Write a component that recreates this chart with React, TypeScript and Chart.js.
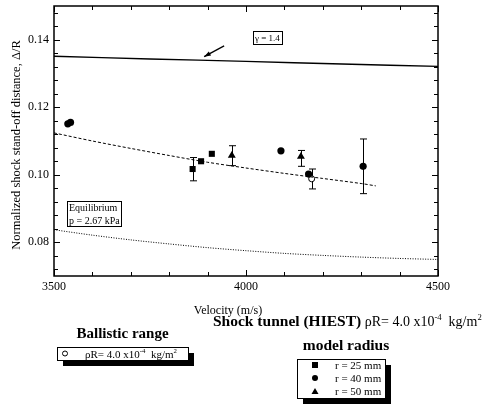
import React, { useEffect, useRef } from 'react';
import { Chart, registerables } from 'chart.js';

Chart.register(...registerables);

const SERIF = "'Liberation Serif', 'Times New Roman', Times, serif";

// Axis ticks
const X_TICKS = [3500, 4000, 4500];
const Y_TICKS = [0.08, 0.1, 0.12, 0.14];

// gamma = 1.4 curve
const GAMMA_V = [3500, 3750, 4000, 4250, 4500];
const GAMMA_R = [0.1351, 0.1343, 0.1336, 0.1328, 0.1321];

// fitted (dashed) curve
const FIT_V = [3500, 3600, 3700, 3800, 3900, 4000, 4100, 4200, 4300, 4338];
const FIT_R = [0.1124, 0.11, 0.1078, 0.1057, 0.1037, 0.102, 0.1004, 0.0989, 0.0974, 0.0967];

// Equilibrium p = 2.67 kPa (dotted)
const EQ_V = [3500, 3600, 3700, 3800, 3900, 4000, 4100, 4200, 4300, 4400, 4500];
const EQ_R = [0.0837, 0.0821, 0.0807, 0.0795, 0.0784, 0.0775, 0.0767, 0.0761, 0.0756, 0.0752, 0.0749];

// Shock tunnel r = 25 mm
const R25_V = [3861, 3883, 3911];
const R25_R = [0.1017, 0.104, 0.1062];
// r = 40 mm
const R40_V = [3536, 3543, 4091, 4163, 4305];
const R40_R = [0.1151, 0.1155, 0.1071, 0.1002, 0.1025];
// r = 50 mm
const R50_V = [3963, 4143];
const R50_R = [0.1057, 0.1054];
// Ballistic range
const BR_V = [4171];
const BR_R = [0.0988];

// Error bars
const ERR_V = [3861, 3963, 4143, 4171, 4305];
const ERR_LO = [0.0982, 0.1027, 0.1025, 0.0958, 0.0944];
const ERR_HI = [0.1051, 0.1086, 0.1072, 0.1017, 0.1106];

// Arrow annotation (data coordinates)
const ARROW_FROM = [3943, 0.1382];
const ARROW_TO = [3891, 0.135];

const pts = (xs: number[], ys: number[]) => xs.map((x, i) => ({ x, y: ys[i] }));

type Part = { t: string; sup?: boolean; bold?: boolean };

function drawRich(ctx: CanvasRenderingContext2D, x: number, y: number, parts: Part[], size: number, boldSize?: number) {
  ctx.textAlign = 'left';
  ctx.textBaseline = 'alphabetic';
  let cx = x;
  for (const p of parts) {
    const base = p.bold && boldSize ? boldSize : size;
    const s = p.sup ? size * 0.62 : base;
    ctx.font = `${p.bold ? 'bold ' : ''}${s}px ${SERIF}`;
    ctx.fillText(p.t, cx, p.sup ? y - size * 0.42 : y);
    cx += ctx.measureText(p.t).width;
  }
}

function shadowBox(ctx: CanvasRenderingContext2D, x: number, y: number, w: number, h: number) {
  ctx.fillStyle = '#000';
  ctx.fillRect(x + 6, y + 6, w, h);
  ctx.fillStyle = '#fff';
  ctx.fillRect(x, y, w, h);
  ctx.strokeStyle = '#000';
  ctx.lineWidth = 1;
  ctx.strokeRect(x + 0.5, y + 0.5, w, h);
}

const decor = {
  id: 'decor',
  beforeDatasetsDraw(chart: any) {
    const { ctx, scales } = chart;
    const xs = scales.x, ys = scales.y;
    ctx.save();
    ctx.strokeStyle = '#000';
    ctx.lineWidth = 1;
    ERR_V.forEach((v, i) => {
      const px = Math.round(xs.getPixelForValue(v)) + 0.5;
      const lo = ys.getPixelForValue(ERR_LO[i]);
      const hi = ys.getPixelForValue(ERR_HI[i]);
      ctx.beginPath();
      ctx.moveTo(px, lo);
      ctx.lineTo(px, hi);
      ctx.moveTo(px - 3.5, lo);
      ctx.lineTo(px + 3.5, lo);
      ctx.moveTo(px - 3.5, hi);
      ctx.lineTo(px + 3.5, hi);
      ctx.stroke();
    });
    ctx.restore();
  },
  afterDraw(chart: any) {
    const { ctx, scales, chartArea } = chart;
    const xs = scales.x, ys = scales.y;
    const { left, right, top, bottom } = chartArea;
    ctx.save();
    // frame
    ctx.strokeStyle = '#000';
    ctx.lineWidth = 1.5;
    ctx.strokeRect(left, top, right - left, bottom - top);
    // inward ticks
    ctx.lineWidth = 1;
    ctx.beginPath();
    for (let v = 3500; v <= 4500; v += 100) {
      const px = Math.round(xs.getPixelForValue(v)) + 0.5;
      const len = v % 500 === 0 ? 6 : 4;
      ctx.moveTo(px, bottom);
      ctx.lineTo(px, bottom - len);
      ctx.moveTo(px, top);
      ctx.lineTo(px, top + len);
    }
    for (let m = 72; m <= 148; m += 4) {
      const py = Math.round(ys.getPixelForValue(m / 1000)) + 0.5;
      const len = m % 20 === 0 ? 6 : 4;
      ctx.moveTo(left, py);
      ctx.lineTo(left + len, py);
      ctx.moveTo(right, py);
      ctx.lineTo(right - len, py);
    }
    ctx.stroke();

    // arrow
    const ax0 = xs.getPixelForValue(ARROW_FROM[0]);
    const ay0 = ys.getPixelForValue(ARROW_FROM[1]);
    const ax1 = xs.getPixelForValue(ARROW_TO[0]);
    const ay1 = ys.getPixelForValue(ARROW_TO[1]);
    const ang = Math.atan2(ay1 - ay0, ax1 - ax0);
    ctx.lineWidth = 1.3;
    ctx.beginPath();
    ctx.moveTo(ax0, ay0);
    ctx.lineTo(ax1, ay1);
    ctx.stroke();
    ctx.fillStyle = '#000';
    ctx.beginPath();
    ctx.moveTo(ax1, ay1);
    ctx.lineTo(ax1 - 7 * Math.cos(ang - 0.35), ay1 - 7 * Math.sin(ang - 0.35));
    ctx.lineTo(ax1 - 7 * Math.cos(ang + 0.35), ay1 - 7 * Math.sin(ang + 0.35));
    ctx.closePath();
    ctx.fill();

    // gamma label box
    ctx.fillStyle = '#fff';
    ctx.fillRect(253, 31, 29, 13);
    ctx.strokeStyle = '#000';
    ctx.lineWidth = 1;
    ctx.strokeRect(253.5, 31.5, 29, 13);
    ctx.fillStyle = '#000';
    ctx.font = `9px ${SERIF}`;
    ctx.textAlign = 'left';
    ctx.textBaseline = 'alphabetic';
    ctx.fillText('\u03b3 = 1.4', 255, 41);

    // equilibrium box
    ctx.fillStyle = '#fff';
    ctx.fillRect(67, 201, 54, 25);
    ctx.strokeRect(67.5, 201.5, 54, 25);
    ctx.fillStyle = '#000';
    ctx.font = `10px ${SERIF}`;
    ctx.fillText('Equilibrium', 69, 211);
    ctx.fillText('p = 2.67 kPa', 69, 224);

    // axis titles
    ctx.font = `12px ${SERIF}`;
    ctx.textAlign = 'center';
    ctx.textBaseline = 'middle';
    ctx.fillText('Velocity (m/s)', 228, 310.5);
    ctx.save();
    ctx.translate(17, 145);
    ctx.rotate(-Math.PI / 2);
    ctx.font = `12.5px ${SERIF}`;
    ctx.fillText('Normalized shock stand-off distance, \u0394/R', 0, 0);
    ctx.restore();

    // Shock tunnel heading
    drawRich(ctx, 213, 326, [
      { t: 'Shock tunnel (HIEST)', bold: true },
      { t: ' \u03c1R= 4.0 x10' },
      { t: '-4', sup: true },
      { t: '  kg/m' },
      { t: '2', sup: true },
    ], 14, 15.5);

    // Ballistic range legend
    ctx.fillStyle = '#000';
    ctx.font = `bold 15px ${SERIF}`;
    ctx.textAlign = 'center';
    ctx.textBaseline = 'alphabetic';
    ctx.fillText('Ballistic range', 122.5, 338);
    shadowBox(ctx, 57, 347, 131, 13);
    ctx.beginPath();
    ctx.arc(65, 353.5, 2.5, 0, Math.PI * 2);
    ctx.strokeStyle = '#000';
    ctx.lineWidth = 1;
    ctx.stroke();
    ctx.fillStyle = '#000';
    drawRich(ctx, 85, 358, [
      { t: '\u03c1R= 4.0 x10' },
      { t: '-4', sup: true },
      { t: '  kg/m' },
      { t: '2', sup: true },
    ], 11);

    // model radius legend
    ctx.font = `bold 15.5px ${SERIF}`;
    ctx.textAlign = 'center';
    ctx.fillText('model radius', 346, 350);
    shadowBox(ctx, 297, 359, 88, 39);
    ctx.fillStyle = '#000';
    ctx.fillRect(312, 362, 6, 6);
    ctx.beginPath();
    ctx.arc(315, 378, 3, 0, Math.PI * 2);
    ctx.fill();
    ctx.beginPath();
    ctx.moveTo(315, 388);
    ctx.lineTo(318.5, 394);
    ctx.lineTo(311.5, 394);
    ctx.closePath();
    ctx.fill();
    ctx.font = `11px ${SERIF}`;
    ctx.textAlign = 'left';
    ctx.fillText('r = 25 mm', 335, 369);
    ctx.fillText('r = 40 mm', 335, 382);
    ctx.fillText('r = 50 mm', 335, 395);
    ctx.restore();
  },
};

export default function App() {
  const ref = useRef<HTMLCanvasElement | null>(null);
  useEffect(() => {
    if (!ref.current) return;
    const chart = new Chart(ref.current, {
      type: 'scatter',
      data: {
        datasets: [
          {
            label: '\u03b3 = 1.4',
            data: pts(GAMMA_V, GAMMA_R),
            showLine: true,
            borderColor: '#000',
            borderWidth: 1.4,
            pointRadius: 0,
            tension: 0.3,
          },
          {
            label: 'fit',
            data: pts(FIT_V, FIT_R),
            showLine: true,
            borderColor: '#000',
            borderWidth: 1,
            borderDash: [3, 2],
            pointRadius: 0,
            tension: 0.3,
          },
          {
            label: 'Equilibrium p = 2.67 kPa',
            data: pts(EQ_V, EQ_R),
            showLine: true,
            borderColor: '#000',
            borderWidth: 1,
            borderDash: [1, 1.5],
            pointRadius: 0,
            tension: 0.3,
          },
          {
            label: 'r = 25 mm',
            data: pts(R25_V, R25_R),
            pointStyle: 'rect',
            pointRadius: 4.3,
            backgroundColor: '#000',
            borderColor: '#000',
            borderWidth: 0,
          },
          {
            label: 'r = 40 mm',
            data: pts(R40_V, R40_R),
            pointStyle: 'circle',
            pointRadius: 3.6,
            backgroundColor: '#000',
            borderColor: '#000',
            borderWidth: 0,
          },
          {
            label: 'r = 50 mm',
            data: pts(R50_V, R50_R),
            pointStyle: 'triangle',
            pointRadius: 4.6,
            backgroundColor: '#000',
            borderColor: '#000',
            borderWidth: 0,
          },
          {
            label: 'Ballistic range',
            data: pts(BR_V, BR_R),
            pointStyle: 'circle',
            pointRadius: 3,
            backgroundColor: '#fff',
            borderColor: '#000',
            borderWidth: 1,
          },
        ],
      },
      options: {
        responsive: false,
        animation: false,
        layout: { padding: { top: 6, right: 44, left: 0, bottom: 0 } },
        plugins: {
          legend: { display: false },
          tooltip: { enabled: false },
        },
        scales: {
          x: {
            type: 'linear',
            min: 3500,
            max: 4500,
            grid: { display: false, drawTicks: false },
            border: { display: false },
            afterFit: (s: any) => {
              s.height = 132;
              s.paddingLeft = 0;
              s.paddingRight = 0;
            },
            afterBuildTicks: (s: any) => { s.ticks = X_TICKS.map((v) => ({ value: v })); },
            ticks: {
              padding: 4,
              color: '#000',
              font: { family: SERIF, size: 12 },
              callback: (v: any) => String(v),
            },
          },
          y: {
            type: 'linear',
            min: 0.07,
            max: 0.15,
            grid: { display: false, drawTicks: false },
            border: { display: false },
            afterFit: (s: any) => {
              s.width = 54;
              s.paddingTop = 0;
              s.paddingBottom = 0;
            },
            afterBuildTicks: (s: any) => { s.ticks = Y_TICKS.map((v) => ({ value: v })); },
            ticks: {
              padding: 5,
              color: '#000',
              font: { family: SERIF, size: 12 },
              callback: (v: any) => Number(v).toFixed(2),
            },
          },
        },
      },
      plugins: [decor],
    } as any);
    return () => chart.destroy();
  }, []);
  return (
    <div style={{ position: 'absolute', left: 0, top: 0, width: 482, height: 408, background: '#fff' }}>
      <canvas ref={ref} width={482} height={408} />
    </div>
  );
}
